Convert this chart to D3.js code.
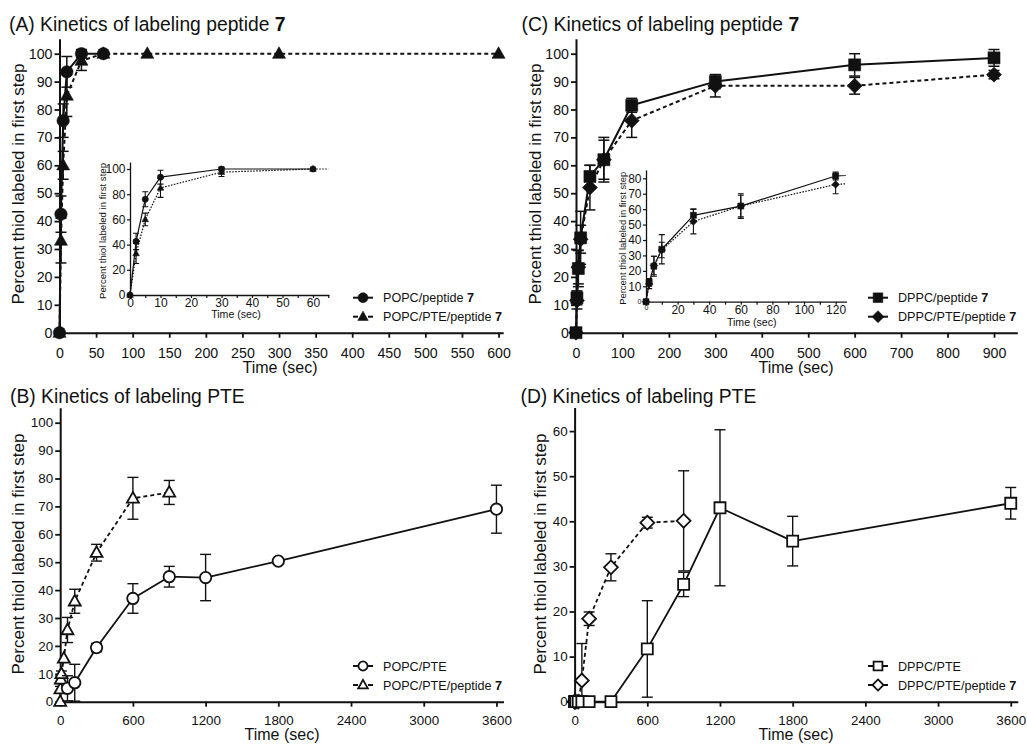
<!DOCTYPE html>
<html>
<head>
<meta charset="utf-8">
<script src="https://cdn.jsdelivr.net/npm/d3@7"></script>
<style>
  body { margin: 0; background: #fff; }
  svg { font-family: "Liberation Sans", Arial, Helvetica, sans-serif; }
</style>
</head>
<body>
<svg id="chart" width="1027" height="744"></svg>
<script>
// ---------------- Data ----------------
// (A) peptide 7 labeling in POPC vesicles (seconds, percent)
const timeA_popc = [0, 2, 5, 10, 30, 60];
const pctA_popc  = [0, 42.5, 76, 93.5, 100, 100];
const errA_popc  = [0, 6.5, 6, 5.5, 1.5, 0];
const timeA_popcPte = [0, 2, 5, 10, 30, 60, 120, 300, 600];
const pctA_popcPte  = [0, 33, 60, 85, 97.5, 100, 100, 100, 100];
const errA_popcPte  = [0, 8, 5, 7.5, 3.5, 0, 0, 0, 0];

// (B) PTE labeling in POPC vesicles
const timeB_popcPte = [60, 120, 300, 600, 900, 1200, 1800, 3600];
const pctB_popcPte  = [4.8, 6.8, 19.4, 37, 44.8, 44.5, 50.4, 69];
const errB_popcPte  = [4.5, 6.6, 1.5, 5.3, 3.7, 8.3, 0, 8.6];
const timeB_popcPtePep = [0, 2, 5, 10, 30, 60, 120, 300, 600, 900];
const pctB_popcPtePep  = [0, 4.5, 8, 10, 15.5, 25.7, 36, 53.4, 72.9, 75];
const errB_popcPtePep  = [0, 1, 1.5, 1, 0, 4.5, 4.3, 3, 7.5, 4.3];

// (C) peptide 7 labeling in DPPC vesicles
const timeC = [0, 2, 5, 10, 30, 60, 120, 300, 600, 900];
const pctC_dppc    = [0, 12.5, 23, 34, 56, 62, 81.5, 90, 96, 98.5];
const errC_dppc    = [0, 2.5, 6.5, 9.5, 4, 8, 2.5, 2.5, 4, 3];
const pctC_dppcPte = [0, 11.5, 23.5, 33.5, 52, 62, 76, 88.5, 88.5, 92.5];
const errC_dppcPte = [0, 3, 6, 5, 8, 7, 6, 4, 3, 1.5];

// (D) PTE labeling in DPPC vesicles
const timeD_dppcPte = [0, 2, 5, 10, 30, 60, 120, 300, 600, 900, 1200, 1800, 3600];
const pctD_dppcPte  = [0, 0, 0, 0, 0, 0, 0, 0, 11.7, 26, 43, 35.6, 44];
const errD_dppcPte  = [0, 0, 0, 0, 0, 0, 0, 0, 10.7, 2.7, 17.3, 5.5, 3.5];
const timeD_dppcPtePep = [0, 2, 5, 10, 30, 60, 120, 300, 600, 900];
const pctD_dppcPtePep  = [0, 0, 0, 0, 0, 4.7, 18.4, 29.8, 39.7, 40.1];
const errD_dppcPtePep  = [0, 0, 0, 0, 0, 8.2, 1.5, 3, 1.2, 11.1];

// Tick values
const ticksA_x = [0, 50, 100, 150, 200, 250, 300, 350, 400, 450, 500, 550, 600];
const ticksC_x = [0, 100, 200, 300, 400, 500, 600, 700, 800, 900];
const ticksBD_x = [0, 600, 1200, 1800, 2400, 3000, 3600];
const ticksPct = [0, 10, 20, 30, 40, 50, 60, 70, 80, 90, 100];
const ticksD_y = [0, 10, 20, 30, 40, 50, 60];
const ticksInsetA_x = [0, 10, 20, 30, 40, 50, 60];
const minorInsetA_x = [5, 15, 25, 35, 45, 55, 65];
const ticksInsetA_y = [0, 20, 40, 60, 80, 100];
const ticksInsetC_x = [0, 20, 40, 60, 80, 100, 120];
const minorInsetC_x = [10, 30, 50, 70, 90, 110];
const ticksInsetC_y = [0, 10, 20, 30, 40, 50, 60, 70, 80];

// Text
const titles = [
  ["(A) Kinetics of labeling peptide ", "7"],
  ["(B) Kinetics of labeling PTE", ""],
  ["(C) Kinetics of labeling peptide ", "7"],
  ["(D) Kinetics of labeling PTE", ""]
];
const legendA = [["POPC/peptide ", "7"], ["POPC/PTE/peptide ", "7"]];
const legendB = [["POPC/PTE", ""], ["POPC/PTE/peptide ", "7"]];
const legendC = [["DPPC/peptide ", "7"], ["DPPC/PTE/peptide ", "7"]];
const legendD = [["DPPC/PTE", ""], ["DPPC/PTE/peptide ", "7"]];
const yTitle = "Percent thiol labeled in first step";
const xTitle = "Time (sec)";

// ---------------- Drawing ----------------
const INK = "#111";
const svg = d3.select("#chart");

function markerPath(type, k) {
  if (type === "circle") {
    const r = 6.2 * k;
    return `M${-r},0A${r},${r} 0 1,0 ${r},0A${r},${r} 0 1,0 ${-r},0Z`;
  }
  if (type === "triangle") {
    const w = 13 * k, h = 11.5 * k;
    return `M0,${-h * 0.6}L${w / 2},${h * 0.4}L${-w / 2},${h * 0.4}Z`;
  }
  if (type === "square") {
    const s = 12 * k;
    return `M${-s / 2},${-s / 2}h${s}v${s}h${-s}Z`;
  }
  const r = 7.5 * k; // diamond
  return `M0,${-r}L${r},0L0,${r}L${-r},0Z`;
}

function drawSeries(g, x, y, s, st) {
  const pts = s.t.map((t, i) => ({ t, v: s.v[i], e: s.e[i] }));
  const line = d3.line().x(d => x(d.t)).y(d => y(d.v));
  g.append("path")
    .attr("d", line(pts))
    .attr("fill", "none")
    .attr("stroke", INK)
    .attr("stroke-width", st.lineW)
    .attr("stroke-linejoin", "round")
    .attr("stroke-dasharray", s.dashed ? st.dash : null);
  const y0 = y.domain()[0];
  const eb = g.append("g").attr("stroke", INK).attr("stroke-width", st.errW).attr("fill", "none");
  pts.filter(d => d.e > 0).forEach(d => {
    const cx = x(d.t), hi = y(d.v + d.e), lo = y(Math.max(d.v - d.e, y0));
    eb.append("line").attr("x1", cx).attr("x2", cx).attr("y1", hi).attr("y2", lo);
    eb.append("line").attr("x1", cx - st.cap / 2).attr("x2", cx + st.cap / 2).attr("y1", hi).attr("y2", hi);
    if (d.v - d.e >= y0)
      eb.append("line").attr("x1", cx - st.cap / 2).attr("x2", cx + st.cap / 2).attr("y1", lo).attr("y2", lo);
  });
  g.append("g").selectAll("path").data(pts).join("path")
    .attr("transform", d => `translate(${x(d.t)},${y(d.v)})`)
    .attr("d", markerPath(s.marker, st.k))
    .attr("fill", st.open ? "#fff" : INK)
    .attr("stroke", INK)
    .attr("stroke-width", st.open ? st.markW : 0.6);
}

function styleAxis(sel, fontSize, strokeW, tickW) {
  sel.select(".domain").attr("stroke", INK).attr("stroke-width", strokeW).attr("stroke-linecap", "square");
  sel.selectAll(".tick line").attr("stroke", INK).attr("stroke-width", tickW);
  sel.selectAll(".tick text").attr("fill", INK).style("font-size", fontSize + "px");
  sel.attr("font-family", null).attr("font-size", null);
}

function panel(cfg) {
  const g = svg.append("g");
  const x = d3.scaleLinear().domain(cfg.xDom).range(cfg.xRng);
  const y = d3.scaleLinear().domain(cfg.yDom).range(cfg.yRng);
  const ax = cfg.axis;

  const gx = g.append("g").attr("transform", `translate(0,${y(0)})`)
    .call(d3.axisBottom(x).tickValues(cfg.xTicks).tickSize(ax.tick).tickSizeOuter(0)
      .tickPadding(ax.xPad).tickFormat(d3.format("d")));
  styleAxis(gx, ax.font, ax.stroke, ax.tickW);
  if (cfg.xMinor) {
    const gm = g.append("g").attr("transform", `translate(0,${y(0)})`)
      .call(d3.axisBottom(x).tickValues(cfg.xMinor).tickSize(ax.tick).tickSizeOuter(0).tickFormat(""));
    gm.select(".domain").remove();
    gm.selectAll(".tick line").attr("stroke", INK).attr("stroke-width", ax.tickW);
  }
  const gy = g.append("g").attr("transform", `translate(${x(0)},0)`)
    .call(d3.axisLeft(y).tickValues(cfg.yTicks).tickSize(ax.tick).tickSizeOuter(0)
      .tickPadding(ax.yPad).tickFormat(d3.format("d")));
  styleAxis(gy, ax.font, ax.stroke, ax.tickW);
  if (ax.zeroSmall) {
    gx.selectAll(".tick text").filter(d => d === 0).style("font-size", ax.zeroSmall + "px");
    gy.selectAll(".tick text").filter(d => d === 0).style("font-size", ax.zeroSmall + "px");
  }

  // axis titles
  g.append("text").attr("x", cfg.xLab[0]).attr("y", cfg.xLab[1])
    .attr("text-anchor", "middle").attr("fill", INK).style("font-size", cfg.xLab[2] + "px").text(xTitle);
  g.append("text").attr("transform", `translate(${cfg.yLab[0]},${cfg.yLab[1]}) rotate(-90)`)
    .attr("text-anchor", "middle").attr("fill", INK).style("font-size", cfg.yLab[2] + "px").text(yTitle);

  // plotted data
  const plot = g.append("g");
  if (cfg.clipId) {
    g.append("clipPath").attr("id", cfg.clipId).append("rect")
      .attr("x", x(0) - 10).attr("y", y.range()[1] - 10)
      .attr("width", cfg.xRng[1] - x(0) + 10).attr("height", y.range()[0] - y.range()[1] + 20);
    plot.attr("clip-path", `url(#${cfg.clipId})`);
  }
  cfg.series.slice().reverse().forEach(s => drawSeries(plot, x, y, s, cfg.style));
  return g;
}

function title(pos, parts) {
  const t = svg.append("text").attr("x", pos[0]).attr("y", pos[1]).attr("fill", INK).style("font-size", "19.3px");
  t.append("tspan").text(parts[0]);
  if (parts[1]) t.append("tspan").attr("font-weight", "bold").text(parts[1]);
}

function legend(x0, ys, entries, series, st) {
  entries.forEach((lab, i) => {
    const g = svg.append("g").attr("transform", `translate(${x0},${ys[i]})`);
    if (series[i].dashed) {
      g.append("line").attr("x1", 0).attr("x2", 5).attr("stroke", INK).attr("stroke-width", 2);
      g.append("line").attr("x1", 15).attr("x2", 20).attr("stroke", INK).attr("stroke-width", 2);
    } else {
      g.append("line").attr("x1", 0).attr("x2", 20).attr("stroke", INK).attr("stroke-width", 2);
    }
    g.append("path").attr("transform", "translate(10,0)")
      .attr("d", markerPath(series[i].marker, st.k * 0.8))
      .attr("fill", st.open ? "#fff" : INK).attr("stroke", INK)
      .attr("stroke-width", st.open ? st.markW : 0.6);
    const t = g.append("text").attr("x", 30).attr("y", 4.5).attr("fill", INK).style("font-size", "12.6px");
    t.append("tspan").text(lab[0]);
    if (lab[1]) t.append("tspan").attr("font-weight", "bold").text(lab[1]);
  });
}

// series definitions
const seriesA = [
  { t: timeA_popc, v: pctA_popc, e: errA_popc, marker: "circle", dashed: false },
  { t: timeA_popcPte, v: pctA_popcPte, e: errA_popcPte, marker: "triangle", dashed: true }
];
const seriesB = [
  { t: timeB_popcPte, v: pctB_popcPte, e: errB_popcPte, marker: "circle", dashed: false },
  { t: timeB_popcPtePep, v: pctB_popcPtePep, e: errB_popcPtePep, marker: "triangle", dashed: true }
];
const seriesC = [
  { t: timeC, v: pctC_dppc, e: errC_dppc, marker: "square", dashed: false },
  { t: timeC, v: pctC_dppcPte, e: errC_dppcPte, marker: "diamond", dashed: true }
];
const seriesD = [
  { t: timeD_dppcPte, v: pctD_dppcPte, e: errD_dppcPte, marker: "square", dashed: false },
  { t: timeD_dppcPtePep, v: pctD_dppcPtePep, e: errD_dppcPtePep, marker: "diamond", dashed: true }
];

const mainAxis = { tick: 5, xPad: 10, yPad: 2, font: 14.2, stroke: 2, tickW: 1.8 };
const lowAxis = { tick: 5, xPad: 8.5, yPad: 2, font: 13.4, stroke: 2, tickW: 1.8 };
const filledStyle = { lineW: 2, dash: "4,3", errW: 1.5, cap: 11, k: 1, open: false };
const openStyle = { lineW: 1.8, dash: "4,3", errW: 1.4, cap: 11, k: 0.92, open: true, markW: 1.8 };
const insetStyle = { lineW: 1.2, dash: "1.6,1.4", errW: 1.1, cap: 6, k: 0.5, open: false };
const insetAxis = { tick: 3, xPad: 0.5, yPad: 1.5, font: 12, stroke: 1.3, tickW: 1.2 };

// (A)
panel({
  xDom: [0, 605], xRng: [59.5, 502.2], yDom: [0, 105], yRng: [332.7, 39.75],
  xTicks: ticksA_x, yTicks: ticksPct, axis: mainAxis,
  xLab: [280, 373, 16], yLab: [24, 184, 17], series: seriesA, style: filledStyle
});
panel({
  xDom: [0, 65], xRng: [130, 328.25], yDom: [0, 105], yRng: [295, 162.7],
  xTicks: ticksInsetA_x, xMinor: minorInsetA_x, yTicks: ticksInsetA_y, axis: insetAxis,
  xLab: [236, 318, 10.6], yLab: [106, 231, 9.6], series: seriesA, style: insetStyle, clipId: "clipInsetA"
});
legend(353, [297.7, 316.7], legendA, seriesA, filledStyle);

// (C)
panel({
  xDom: [0, 948], xRng: [576, 1016.3], yDom: [0, 105], yRng: [332.7, 39.75],
  xTicks: ticksC_x, yTicks: ticksPct, axis: mainAxis,
  xLab: [796, 373, 16], yLab: [540.5, 184, 17], series: seriesC, style: filledStyle
});
panel({
  xDom: [0, 126.5], xRng: [646, 845.9], yDom: [0, 85], yRng: [301.7, 170.6],
  xTicks: ticksInsetC_x, xMinor: minorInsetC_x, yTicks: ticksInsetC_y,
  axis: Object.assign({}, insetAxis, { xPad: 0.3, zeroSmall: 7 }),
  xLab: [751.7, 325.5, 10.6], yLab: [626, 238.3, 9.4], series: seriesC, style: insetStyle, clipId: "clipInsetC"
});
legend(868, [297.7, 316.7], legendC, seriesC, filledStyle);

// (B)
panel({
  xDom: [0, 3650], xRng: [60.2, 502.5], yDom: [0, 105], yRng: [701.7, 408.75],
  xTicks: ticksBD_x, yTicks: ticksPct, axis: lowAxis,
  xLab: [282, 740, 16], yLab: [24, 554, 17], series: seriesB, style: openStyle
});
legend(353, [666, 685], legendB, seriesB, openStyle);

// (D)
panel({
  xDom: [0, 3650], xRng: [574.6, 1016.8], yDom: [0, 65], yRng: [701.7, 408.55],
  xTicks: ticksBD_x, yTicks: ticksD_y, axis: lowAxis,
  xLab: [796, 740, 16], yLab: [545.5, 554, 17], series: seriesD, style: openStyle
});
legend(868, [666, 685], legendD, seriesD, openStyle);

title([9, 31], titles[0]);
title([10, 403], titles[1]);
title([521.5, 31], titles[2]);
title([520.5, 403], titles[3]);
</script>
</body>
</html>
